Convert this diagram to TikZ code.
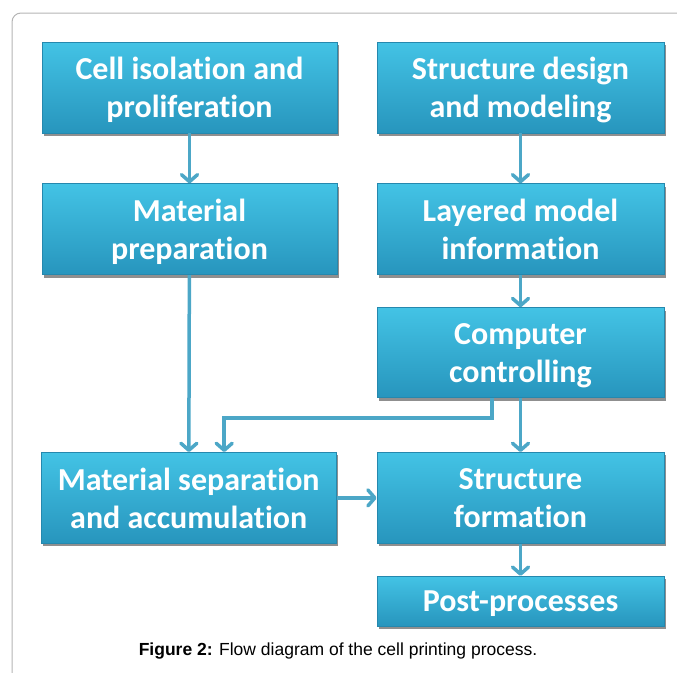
\documentclass[tikz,border=0pt]{standalone}
\usepackage{fontspec}
\setmainfont{Carlito}[Ligatures=NoCommon]
\newfontfamily\captionfont{Liberation Sans}
\usetikzlibrary{positioning,arrows.meta,shadows}

\definecolor{boxtop}{HTML}{43C3E5}
\definecolor{boxbottom}{HTML}{2795BD}
\definecolor{boxedge}{HTML}{2588AE}
\definecolor{flowblue}{HTML}{4CA7C7}
\definecolor{framegray}{HTML}{B4B4B4}

\tikzset{
  stepbox/.style={draw=boxedge, line width=0.8pt, top color=boxtop, bottom color=boxbottom,
    text=white, align=center, inner sep=0pt, minimum width=287pt, minimum height=91pt,
    text depth=0pt, font=\bfseries\fontsize{32}{38}\selectfont,
    drop shadow={shadow xshift=2pt, shadow yshift=-3pt, opacity=0.55, fill=black!80}},
  widebox/.style={minimum width=295pt},
  flow/.style={draw=flowblue, line width=3.5pt,
    -{Straight Barb[length=7pt,width=16pt,line cap=round,line join=round]}},
}

\begin{document}
\begin{tikzpicture}[x=1pt, y=-1pt]
\useasboundingbox (0,0) rectangle (677,672);
\draw [framegray, line width=1pt, rounded corners=9pt] (12,13) rectangle (700,700);

% left column
\node (cell) [stepbox, widebox] at (189.5,87.5) {Cell isolation and\\proliferation};
\node (prep) [stepbox, widebox, below=50pt of cell] {Material\\preparation};

% right column
\node (design) [stepbox] at (520.5,87.5) {Structure design\\and modeling};
\node (layer) [stepbox, below=50pt of design] {Layered model\\information};
\node (comp) [stepbox, below=32pt of layer, minimum height=90pt] {Computer\\controlling};
\node (form) [stepbox, below=54pt of comp] {Structure\\formation};
\node (sep) [stepbox, widebox, left=40pt of form] {Material separation\\and accumulation};
\node (post) [stepbox, below=32pt of form, minimum height=50pt] {Post-processes};

\coordinate (split) at (492,418);

\draw [flow] (cell) -- (prep);
\draw [flow] (design) -- (layer);
\draw [flow] (layer) -- (comp);
\draw [flow] (prep) -- (sep);
\draw [flow] (comp.south -| split) -- (split) -| ([xshift=35.5pt]sep.north);
\draw [flow] (comp) -- (form);
\draw [flow] (sep) -- (form);
\draw [flow] (form) -- (post);

\node (caption) at (338,651) {\captionfont\fontsize{17.5}{20}\selectfont\textbf{Figure 2:} Flow diagram of the cell printing process.};
\end{tikzpicture}
\end{document}
